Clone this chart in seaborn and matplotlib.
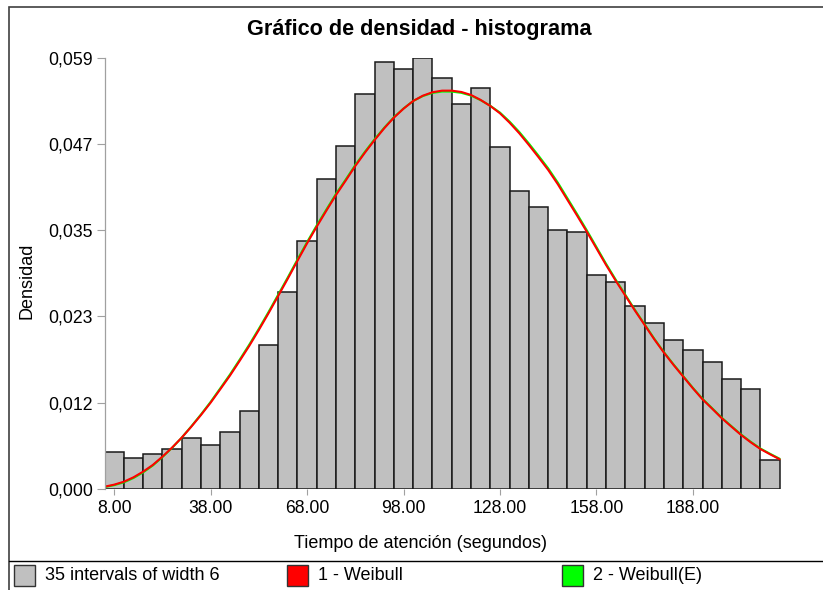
import numpy as np
import pandas as pd
import matplotlib
matplotlib.use("Agg")
import matplotlib.pyplot as plt
import seaborn as sns
from matplotlib.patches import Rectangle
from matplotlib.lines import Line2D

# ---------------- data ----------------
bin_start = 5
bin_width = 6
density = [0.00504, 0.00414, 0.00477, 0.00537, 0.00687, 0.00591, 0.00769, 0.01063,
           0.01963, 0.02685, 0.03372, 0.04217, 0.04675, 0.05379, 0.05815, 0.05724,
           0.05866, 0.05597, 0.05243, 0.05461, 0.04653, 0.04057, 0.03839, 0.03526,
           0.03494, 0.02917, 0.02817, 0.02486, 0.02262, 0.02031, 0.01890, 0.01723,
           0.01499, 0.01363, 0.00391]

curve_x = [5, 8, 11, 14, 17, 20, 23, 26, 29, 32, 35, 38, 41, 44, 47, 50, 53, 56, 59,
           62, 65, 68, 71, 74, 77, 80, 83, 86, 89, 92, 95, 98, 101, 104, 107, 110,
           113, 116, 119, 122, 125, 128, 131, 134, 137, 140, 143, 146, 149, 152, 155,
           158, 161, 164, 167, 170, 173, 176, 179, 182, 185, 188, 191, 194, 197, 200,
           203, 206, 209, 212, 215]
weibull = [0.00027, 0.00055, 0.00095, 0.00155, 0.00232, 0.00323, 0.00436, 0.00559,
           0.00695, 0.00845, 0.01004, 0.01172, 0.01355, 0.01540, 0.01740, 0.01945,
           0.02163, 0.02390, 0.02626, 0.02862, 0.03105, 0.03344, 0.03571, 0.03789,
           0.04003, 0.04198, 0.04398, 0.04580, 0.04752, 0.04912, 0.05057, 0.05179,
           0.05284, 0.05356, 0.05403, 0.05425, 0.05425, 0.05407, 0.05366, 0.05298,
           0.05216, 0.05116, 0.04988, 0.04844, 0.04684, 0.04517, 0.04344, 0.04149,
           0.03935, 0.03721, 0.03503, 0.03276, 0.03049, 0.02835, 0.02630, 0.02426,
           0.02231, 0.02036, 0.01854, 0.01686, 0.01527, 0.01368, 0.01218, 0.01090,
           0.00960, 0.00845, 0.00732, 0.00632, 0.00541, 0.00469, 0.00401]
weibull_e = [0.00022, 0.00048, 0.00086, 0.00145, 0.00222, 0.00315, 0.00430, 0.00556,
             0.00695, 0.00850, 0.01012, 0.01183, 0.01368, 0.01555, 0.01756, 0.01962,
             0.02180, 0.02407, 0.02643, 0.02879, 0.03122, 0.03361, 0.03588, 0.03805,
             0.04019, 0.04213, 0.04412, 0.04593, 0.04763, 0.04920, 0.05063, 0.05182,
             0.05284, 0.05351, 0.05394, 0.05413, 0.05412, 0.05395, 0.05358, 0.05295,
             0.05218, 0.05126, 0.05003, 0.04862, 0.04704, 0.04538, 0.04366, 0.04171,
             0.03957, 0.03742, 0.03522, 0.03294, 0.03065, 0.02849, 0.02642, 0.02436,
             0.02240, 0.02044, 0.01861, 0.01693, 0.01534, 0.01375, 0.01225, 0.01097,
             0.00967, 0.00852, 0.00739, 0.00639, 0.00548, 0.00476, 0.00408]

y_max = 0.0587
ytick_labels = ["0,000", "0,012", "0,023", "0,035", "0,047", "0,059"]
xtick_values = [8, 38, 68, 98, 128, 158, 188]
xtick_labels = ["8.00", "38.00", "68.00", "98.00", "128.00", "158.00", "188.00"]

title = "Gráfico de densidad - histograma"
xlabel = "Tiempo de atención (segundos)"
ylabel = "Densidad"
legend_labels = ["35 intervals of width 6", "1 - Weibull", "2 - Weibull(E)"]

# ---------------- style ----------------
sns.set_theme(style="white")
plt.rcParams['font.family'] = ['Liberation Sans', 'DejaVu Sans']
plt.rcParams['text.color'] = 'black'
plt.rcParams['axes.labelcolor'] = 'black'
plt.rcParams['xtick.color'] = 'black'
plt.rcParams['ytick.color'] = 'black'

W, H = 823, 590
fig = plt.figure(figsize=(W / 100, H / 100), dpi=100)

def fx(px):
    return px / W

def fy(py):
    return 1 - py / H

ax_l, ax_r, ax_t, ax_b = 104.5, 781.3, 58.0, 488.7
ax = fig.add_axes([fx(ax_l), fy(ax_b), (ax_r - ax_l) / W, (ax_b - ax_t) / H])

BAR = "#C0C0C0"
RED = "#FF0000"
GREEN = "#00FF00"
GRID = "#A0A0A0"

n_bins = len(density)
bin_end = bin_start + bin_width * n_bins
centers = [bin_start + bin_width * (i + 0.5) for i in range(n_bins)]
df = pd.DataFrame({"x": centers, "d": density})
sns.histplot(data=df, x="x", weights="d", binwidth=bin_width,
             binrange=(bin_start, bin_end), stat="count",
             color=BAR, edgecolor="#1a1a1a", linewidth=1.1, alpha=1, ax=ax)

cdf = pd.DataFrame({"x": curve_x, "w": weibull, "we": weibull_e})
sns.lineplot(data=cdf, x="x", y="we", color=GREEN, linewidth=1.5, ax=ax)
sns.lineplot(data=cdf, x="x", y="w", color=RED, linewidth=1.5, ax=ax)

ax.set_xlim(bin_start, bin_end + 0.5)
ax.set_ylim(0, y_max)
ax.set_xlabel("")
ax.set_ylabel("")

for s in ["top", "right", "bottom"]:
    ax.spines[s].set_visible(False)
ax.spines["left"].set_color(GRID)
ax.spines["left"].set_linewidth(0.9)

ax.set_xticks(xtick_values, xtick_labels)
ax.set_yticks(np.linspace(0, y_max, len(ytick_labels)), ytick_labels)
ax.tick_params(axis="x", bottom=True, length=4.5, width=0.8, color=GRID, pad=3.5,
               labelsize=12.7, labelcolor="black")
ax.tick_params(axis="y", left=True, length=5.5, width=0.8, color=GRID, pad=3,
               labelsize=12.7, labelcolor="black")
ax.patch.set_alpha(0)

# ---------------- texts ----------------
fig.text(fx(419.7), fy(29), title, ha="center", va="center",
         fontsize=15.6, fontweight="bold", color="black")
fig.text(fx(420), fy(543.3), xlabel, ha="center", va="center", fontsize=13,
         color="black")
fig.text(fx(27), fy(281), ylabel, ha="center", va="center", rotation=90,
         fontsize=13, color="black")

# ---------------- frame & legend ----------------
fig.add_artist(Rectangle((fx(9), fy(H + 5)), (W - 9 + 5) / W, (H + 5 - 7.3) / H,
                         transform=fig.transFigure, fill=False,
                         edgecolor="#404040", linewidth=1.2))
fig.add_artist(Line2D([fx(9), 1.0], [fy(561), fy(561)], transform=fig.transFigure,
                      color="black", linewidth=1.0))

legend_colors = [BAR, RED, GREEN]
legend_x = [14, 287.3, 561.7]
for lx, col, lab in zip(legend_x, legend_colors, legend_labels):
    fig.add_artist(Rectangle((fx(lx), fy(586)), 21 / W, 21 / H,
                             transform=fig.transFigure, facecolor=col,
                             edgecolor="#333333", linewidth=1.0))
    fig.text(fx(lx + 31), fy(576), lab, ha="left", va="center", fontsize=13,
             color="black")

fig.savefig("out.png", dpi=100)
